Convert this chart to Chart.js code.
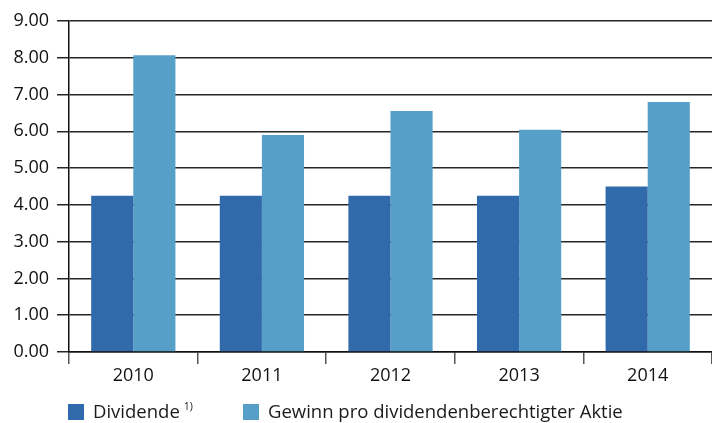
<!DOCTYPE html>
<html>
<head>
<meta charset="utf-8">
<script src="https://cdn.jsdelivr.net/npm/chart.js@4/dist/chart.umd.min.js"></script>
<style>
  html, body { margin: 0; padding: 0; background: #fff; }
  #wrap { position: relative; width: 712px; height: 423px; }
  #legend { position: absolute; left: 0; top: 0; width: 712px; height: 423px; pointer-events: none;
            font-family: "Open Sans", "Noto Sans", sans-serif; font-size: 18.5px; color: #1a1a1a; }
  .box { position: absolute; top: 404px; width: 16px; height: 16px; }
  .txt { position: absolute; top: 399px; white-space: nowrap; line-height: 24px; }
  sup { font-size: 10.5px; line-height: 0; vertical-align: 8px; margin-left: 4px; }
</style>
</head>
<body>
<div id="wrap">
  <canvas id="c" width="712" height="423"></canvas>
  <div id="legend"></div>
</div>
<script>
const categories = ['2010', '2011', '2012', '2013', '2014'];
const dividende = [4.25, 4.25, 4.25, 4.25, 4.50];
const gewinn = [8.07, 5.90, 6.55, 6.04, 6.80];
const seriesNames = ['Dividende', 'Gewinn pro dividendenberechtigter Aktie'];
const seriesNotes = ['1)', ''];
const seriesColors = ['#306aab', '#559fc8'];
const yTicks = [0, 1, 2, 3, 4, 5, 6, 7, 8, 9];

const FONT = { family: '"Open Sans", "Noto Sans", sans-serif', size: 18 };

const chart = new Chart(document.getElementById('c'), {
  type: 'bar',
  data: {
    labels: categories,
    datasets: [
      { label: seriesNames[0], data: dividende, backgroundColor: seriesColors[0], borderWidth: 0,
        barPercentage: 1, categoryPercentage: 0.655 },
      { label: seriesNames[1], data: gewinn, backgroundColor: seriesColors[1], borderWidth: 0,
        barPercentage: 1, categoryPercentage: 0.655 }
    ]
  },
  options: {
    responsive: false,
    animation: false,
    layout: { padding: { top: 21, right: 0, bottom: 0, left: 0 } },
    plugins: { legend: { display: false }, tooltip: { enabled: false } },
    scales: {
      x: {
        grid: { drawOnChartArea: false, drawTicks: true, tickLength: 12, color: '#555', lineWidth: 1.5, offset: true },
        border: { display: true, color: '#111', width: 1.5 },
        ticks: { color: '#111', font: FONT, padding: 1 },
        afterFit(scale) { scale.height = 71; }
      },
      y: {
        min: 0, max: 9,
        afterBuildTicks(scale) { scale.ticks = yTicks.map(v => ({ value: v })); },
        grid: { color: '#262626', lineWidth: 1.5, tickLength: 12, drawTicks: true },
        border: { display: true, color: '#111', width: 1.5 },
        ticks: { color: '#111', font: FONT, padding: 8, callback: v => Number(v).toFixed(2) },
        afterFit(scale) { scale.width = 69; }
      }
    }
  }
});

const legend = document.getElementById('legend');
const lefts = [68, 243];
seriesNames.forEach((name, i) => {
  const b = document.createElement('div');
  b.className = 'box';
  b.style.left = lefts[i] + 'px';
  b.style.background = seriesColors[i];
  legend.appendChild(b);
  const t = document.createElement('div');
  t.className = 'txt';
  t.style.left = (lefts[i] + 25) + 'px';
  t.appendChild(document.createTextNode(name));
  if (seriesNotes[i]) {
    const s = document.createElement('sup');
    s.textContent = seriesNotes[i];
    t.appendChild(s);
  }
  legend.appendChild(t);
});
</script>
</body>
</html>
